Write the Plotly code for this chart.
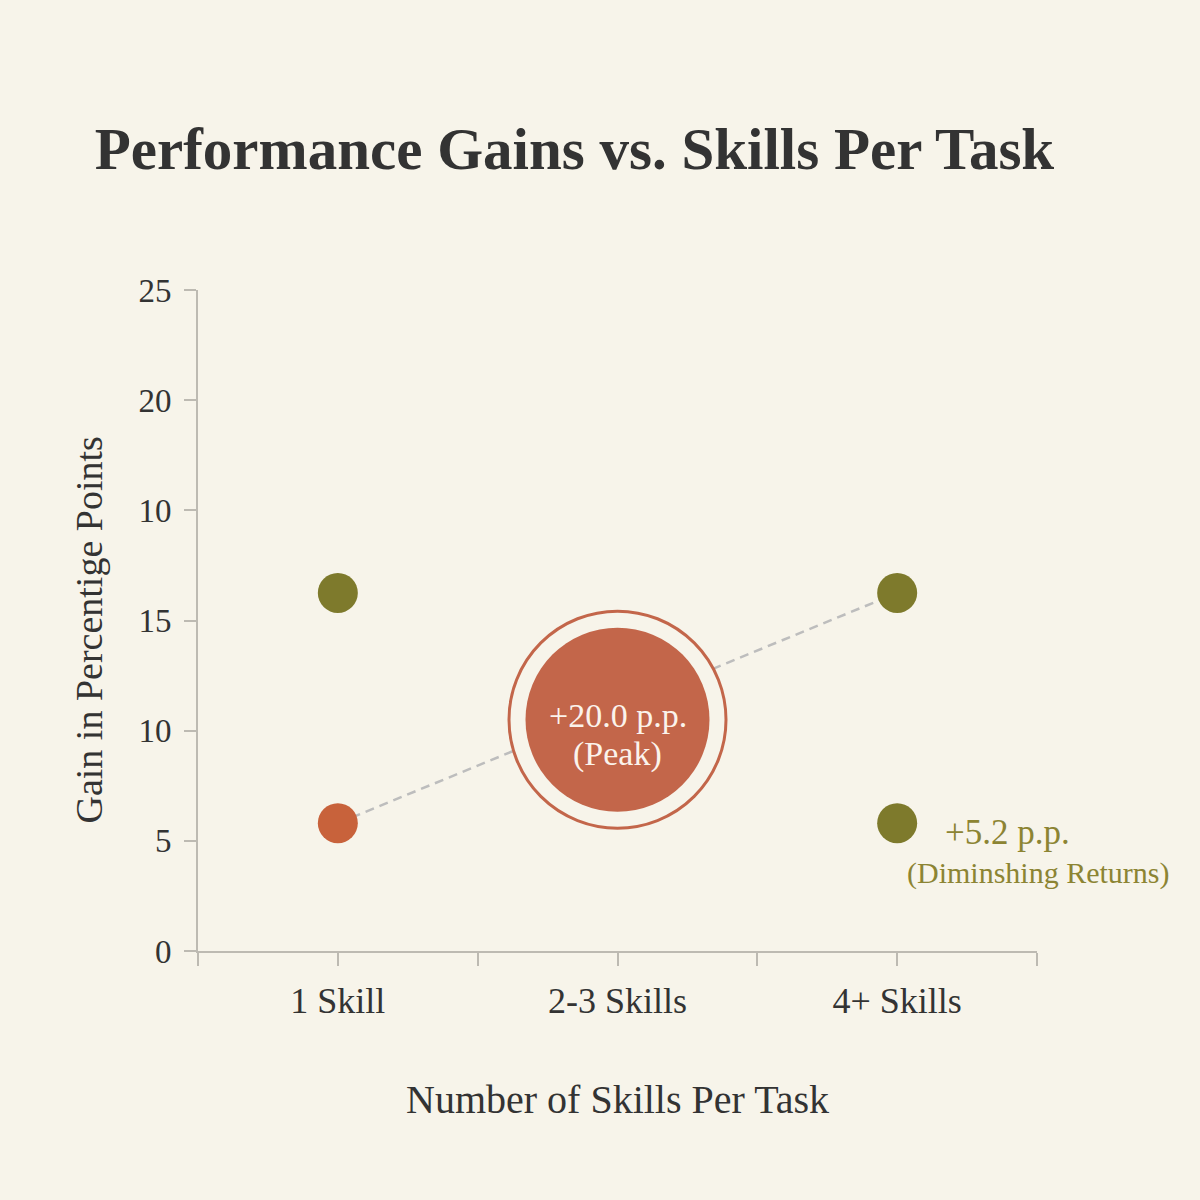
import plotly.graph_objects as go

# ---- data ----
categories = ["1 Skill", "2-3 Skills", "4+ Skills"]
cat_pos = [0, 1, 2]
# y values in axis-position units (axis drawn 0..30, step 5)
green_x = [0, 2]
green_y = [16.25, 16.25]
orange_x = [0]
orange_y = [5.8]
peak_x = [1]
peak_y = [10.5]
low_green_x = [2]
low_green_y = [5.8]
trend_x = [0, 2]
trend_y = [5.8, 16.25]
y_tickvals = [0, 5, 10, 15, 20, 25, 30]
y_ticktext = ["0", "5", "10", "15", "10", "20", "25"]
x_tickvals = [-0.5, 0, 0.5, 1, 1.5, 2, 2.5]
x_ticktext = ["", "1 Skill", "", "2-3 Skills", "", "4+ Skills", ""]

BG = "#F7F4EA"
ORANGE = "#C8623B"
PEAK = "#C3664A"
GREEN = "#7E7A2C"
GREEN_TXT = "#8C8433"
DARK = "#333333"
AXIS = "#BDBAB2"
FONT = "Liberation Serif"

fig = go.Figure()

fig.add_trace(go.Scatter(x=trend_x, y=trend_y, mode="lines",
                         line=dict(color="#BDBDBD", width=2.5, dash="9px,6px"),
                         hoverinfo="skip", showlegend=False))
# ring around peak
fig.add_trace(go.Scatter(x=peak_x, y=peak_y, mode="markers",
                         marker=dict(size=217, color=BG, line=dict(color=PEAK, width=3)),
                         hoverinfo="skip", showlegend=False))
fig.add_trace(go.Scatter(x=peak_x, y=peak_y, mode="markers",
                         marker=dict(size=184, color=PEAK, line=dict(width=0)),
                         hoverinfo="skip", showlegend=False))
fig.add_trace(go.Scatter(x=green_x, y=green_y, mode="markers",
                         marker=dict(size=40, color=GREEN, line=dict(width=0)),
                         hoverinfo="skip", showlegend=False))
fig.add_trace(go.Scatter(x=low_green_x, y=low_green_y, mode="markers",
                         marker=dict(size=40, color=GREEN, line=dict(width=0)),
                         hoverinfo="skip", showlegend=False))
fig.add_trace(go.Scatter(x=orange_x, y=orange_y, mode="markers",
                         marker=dict(size=40, color=ORANGE, line=dict(width=0)),
                         hoverinfo="skip", showlegend=False))

annotations = [
    dict(x=peak_x[0], y=peak_y[0], xref="x", yref="y", text="+20.0 p.p.",
         showarrow=False, font=dict(family=FONT, size=34, color="#FBF3EC"),
         xanchor="center", yanchor="middle", yshift=4),
    dict(x=peak_x[0], y=peak_y[0], xref="x", yref="y", text="(Peak)",
         showarrow=False, font=dict(family=FONT, size=34, color="#FBF3EC"),
         xanchor="center", yanchor="middle", yshift=-34),
    dict(x=low_green_x[0], y=low_green_y[0], xref="x", yref="y", text="+5.2 p.p.",
         showarrow=False, font=dict(family=FONT, size=35, color=GREEN_TXT),
         xanchor="left", yanchor="middle", xshift=46, yshift=-9),
    dict(x=low_green_x[0], y=low_green_y[0], xref="x", yref="y", text="(Diminshing Returns)",
         showarrow=False, font=dict(family=FONT, size=30, color=GREEN_TXT),
         xanchor="left", yanchor="middle", xshift=8, yshift=-50),
    dict(x=0, y=0.5, xref="paper", yref="paper", text="Gain in Percentige Points",
         showarrow=False, textangle=-90, font=dict(family=FONT, size=38, color=DARK),
         xanchor="center", yanchor="middle", xshift=-110, yshift=-10),
    dict(x=0.5, y=0, xref="paper", yref="paper", text="Number of Skills Per Task",
         showarrow=False, font=dict(family=FONT, size=40, color=DARK),
         xanchor="center", yanchor="middle", yshift=-148),
]

fig.update_layout(
    width=1200, height=1200,
    paper_bgcolor=BG, plot_bgcolor=BG,
    margin=dict(l=198, r=163, t=290, b=249),
    title=dict(text="<b>Performance Gains vs. Skills Per Task</b>",
               x=0.079, xanchor="left", xref="container",
               y=1 - 148 / 1200, yanchor="middle", yref="container",
               font=dict(family=FONT, size=59, color=DARK)),
    annotations=annotations,
    showlegend=False,
    hovermode=False,
)
fig.update_xaxes(range=[-0.5, 2.5], tickmode="array", tickvals=x_tickvals, ticktext=x_ticktext,
                 showgrid=False, zeroline=False, showline=True, linecolor=AXIS, linewidth=2,
                 ticks="outside", ticklen=13, tickwidth=2, tickcolor=AXIS,
                 ticklabelstandoff=4,
                 tickfont=dict(family=FONT, size=36, color=DARK))
fig.update_yaxes(range=[0, 30], tickmode="array", tickvals=y_tickvals, ticktext=y_ticktext,
                 showgrid=False, zeroline=False, showline=True, linecolor=AXIS, linewidth=2,
                 ticks="outside", ticklen=12, tickwidth=2, tickcolor=AXIS,
                 ticklabelstandoff=6,
                 tickfont=dict(family=FONT, size=33, color=DARK))

fig.write_html("out.html")
